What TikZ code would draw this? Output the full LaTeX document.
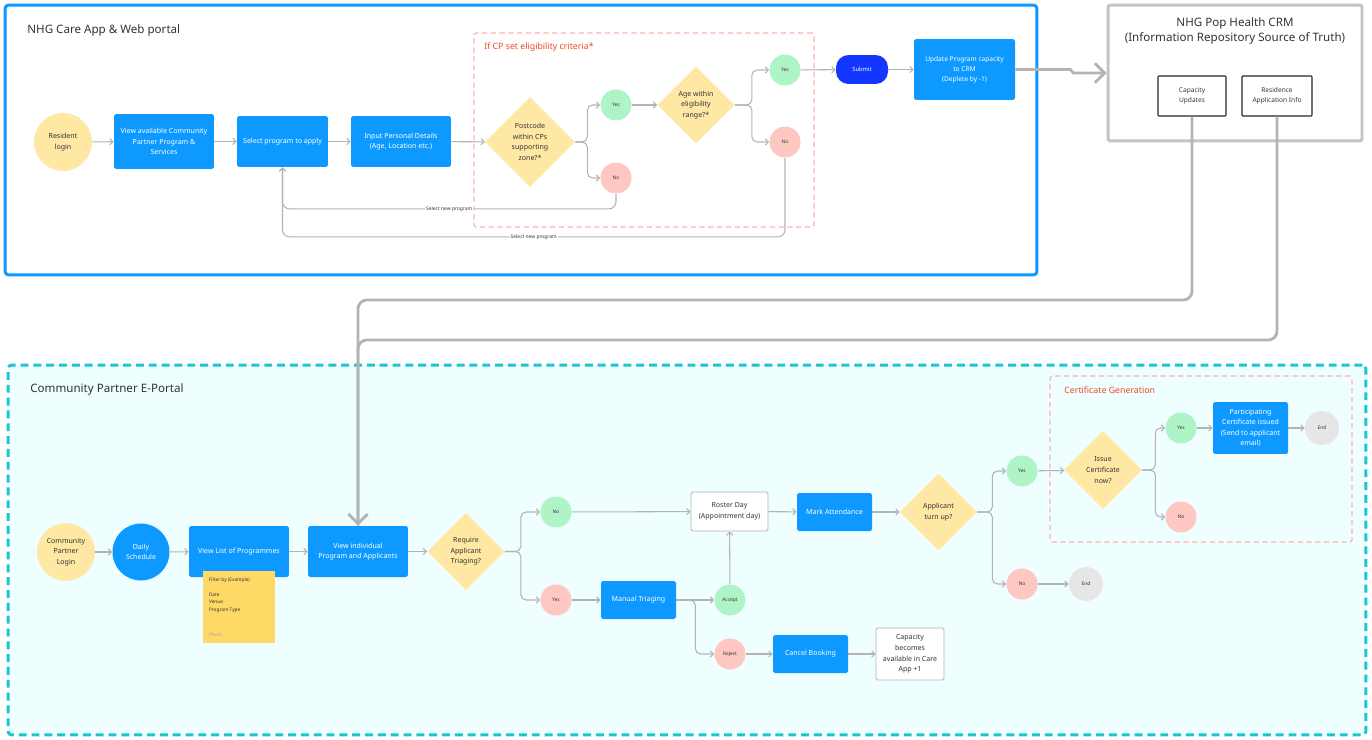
\documentclass[tikz,border=0pt]{standalone}
\usepackage{fontspec}
\setmainfont{Noto Sans}
\usepackage{xcolor}
\usepackage{tikz}
\usetikzlibrary{arrows.meta,positioning,calc,shapes.geometric}

\definecolor{figblue}{HTML}{0D99FF}
\definecolor{submitblue}{HTML}{1437FF}
\definecolor{softyellow}{HTML}{FFE8A3}
\definecolor{softgreen}{HTML}{AFF4C6}
\definecolor{softpink}{HTML}{FFC7C2}
\definecolor{endgrey}{HTML}{E6E6E6}
\definecolor{stickyyellow}{HTML}{FFD966}
\definecolor{portalteal}{HTML}{1BC5D1}
\definecolor{portalfill}{HTML}{EFFEFF}
\definecolor{framepink}{HTML}{FFB3AA}
\definecolor{titlered}{HTML}{F24822}
\definecolor{flowgrey}{HTML}{B3B3B3}
\definecolor{crmgrey}{HTML}{C4C4C4}
\definecolor{inkgrey}{HTML}{333333}

\newcommand{\panelfont}{\fontsize{6.6pt}{8.2pt}\selectfont}
\newcommand{\framefont}{\fontsize{5pt}{6pt}\selectfont}
\newcommand{\boxfont}{\fontsize{4pt}{6pt}\selectfont}
\newcommand{\smallboxfont}{\fontsize{3.75pt}{5.6pt}\selectfont}
\newcommand{\dotfont}{\fontsize{2.8pt}{3.4pt}\selectfont}
\newcommand{\notefont}{\fontsize{2.7pt}{4.2pt}\selectfont}

\begin{document}
\begin{tikzpicture}[
  x=0.02cm, y=-0.02cm,
  bluebox/.style={rectangle, fill=figblue, text=white, rounded corners=1pt,
                  inner sep=1pt, align=center, font=\boxfont},
  plainbox/.style={rectangle, fill=white, draw=flowgrey, line width=0.5pt,
                   rounded corners=1pt, inner sep=1pt, align=center,
                   font=\boxfont, text=inkgrey},
  repobox/.style={rectangle, draw=black!85, line width=0.6pt,
                  rounded corners=0.5pt, align=center, font=\smallboxfont,
                  text=inkgrey, minimum height=0.8cm},
  startdot/.style={circle, fill=softyellow, minimum size=1.16cm,
                   inner sep=0pt, align=center, font=\boxfont, text=inkgrey},
  decision/.style={diamond, aspect=1, fill=softyellow, inner sep=0pt,
                   align=center, font=\boxfont, text=inkgrey},
  yesdot/.style={circle, fill=softgreen, minimum size=0.62cm, inner sep=0pt,
                 font=\dotfont, text=inkgrey},
  nodot/.style={yesdot, fill=softpink},
  enddot/.style={yesdot, fill=endgrey, minimum size=0.68cm},
  sticky/.style={rectangle, fill=stickyyellow, minimum width=1.44cm,
                 minimum height=1.44cm, inner sep=0pt},
  notetext/.style={font=\notefont, align=left, inner sep=0pt, text=inkgrey},
  flow/.style={draw=flowgrey, line width=0.6pt,
               -{Straight Barb[length=1.8pt,width=3.6pt]}},
  bigflow/.style={draw=flowgrey, line width=1.6pt,
                  -{Straight Barb[length=5.5pt,width=11pt]}},
  bigline/.style={draw=flowgrey, line width=1.6pt},
  looplabel/.style={fill=white, inner sep=0.6pt, font=\dotfont, text=inkgrey},
  paneltitle/.style={anchor=west, font=\panelfont, text=inkgrey, inner sep=0pt},
  frametitle/.style={anchor=west, font=\framefont, text=titlered, inner sep=0pt},
  pinkframe/.style={rectangle, draw=framepink, line width=0.7pt,
                    dash pattern=on 3pt off 2pt, rounded corners=1pt,
                    inner sep=0pt},
]
\useasboundingbox (0,0) rectangle (1372,740);

%%---- Panels --------------------------------------------------------
\node[rectangle, fill=portalfill, draw=portalteal, line width=1.7pt,
      dash pattern=on 4.5pt off 2.8pt, rounded corners=2pt, inner sep=0pt,
      minimum width=27.16cm, minimum height=7.4cm] (portalPanel) at (687,550) {};
\node[pinkframe, minimum width=6.04cm, minimum height=3.32cm] (certPanel) at (1201,459) {};
\node[rectangle, draw=figblue, line width=1.7pt, rounded corners=2pt,
      inner sep=0pt, minimum width=20.64cm, minimum height=5.4cm] (appPanel) at (521,140) {};
\node[pinkframe, minimum width=6.8cm, minimum height=3.88cm] (eligPanel) at (644,130) {};
\node[rectangle, draw=crmgrey, line width=1.7pt, rounded corners=1pt,
      inner sep=0pt, minimum width=5.08cm, minimum height=2.72cm] (crmPanel) at (1235,73) {};

\node[paneltitle] (appTitle) at (27,30) {NHG Care App \& Web portal};
\node[frametitle] (eligTitle) at (484,47) {If CP set eligibility criteria*};
\node[paneltitle] (portalTitle) at (30,389) {Community Partner E-Portal};
\node[frametitle] (certTitle) at (1064,390) {Certificate Generation};
\node[font=\panelfont, text=inkgrey, align=center, inner sep=0pt] (crmTitle) at (1235,31)
  {NHG Pop Health CRM\\(Information Repository Source of Truth)};

%%---- Care App flow -------------------------------------------------
\node[startdot] (resLogin) at (63,142) {Resident\\login};
\node[bluebox, minimum width=2cm, minimum height=1.1cm] (viewAvail) at (164,141.5)
  {View available Community\\Partner Program \&\\Services};
\node[bluebox, minimum width=1.82cm, minimum height=1.02cm] (selectProg) at (282.5,141.5)
  {Select program to apply};
\node[bluebox, minimum width=2cm, minimum height=1.02cm] (inputDetails) at (401,141.5)
  {Input Personal Details\\(Age, Location etc.)};
\node[decision, minimum width=1.8cm, minimum height=1.8cm] (postcode) at (530,142)
  {Postcode\\within CPs\\supporting\\zone?*};
\node[yesdot] (pcYes) at (616,105) {Yes};
\node[nodot] (pcNo) at (616,178) {No};
\node[decision, minimum width=1.54cm, minimum height=1.54cm] (ageCheck) at (696,105)
  {Age within\\eligibility\\range?*};
\node[yesdot] (ageYes) at (785,70) {Yes};
\node[nodot] (ageNo) at (785,142) {No};
\node[rectangle, fill=submitblue, text=white, rounded corners=0.25cm,
      minimum width=1.04cm, minimum height=0.58cm, inner sep=0pt,
      font=\fontsize{3.3pt}{4pt}\selectfont] (submit) at (862,69.5) {Submit};
\node[bluebox, font=\smallboxfont, minimum width=2.02cm, minimum height=1.22cm] (updateCap) at (964.5,69.5)
  {Update Program capacity\\to CRM\\(Deplete by -1)};

\draw[flow] (resLogin) -- (viewAvail);
\draw[flow] (viewAvail) -- (selectProg);
\draw[flow] (selectProg) -- (inputDetails);
\draw[flow] (inputDetails) -- (postcode);
\draw[flow, rounded corners=3pt] (postcode.east) -- ++(12,0) |- (pcYes.west);
\draw[flow, rounded corners=3pt] (postcode.east) -- ++(12,0) |- (pcNo.west);
\draw[flow] (pcYes) -- (ageCheck);
\draw[flow, rounded corners=3pt] (ageCheck.east) -- ++(17,0) |- (ageYes.west);
\draw[flow, rounded corners=3pt] (ageCheck.east) -- ++(17,0) |- (ageNo.west);
\draw[flow] (ageYes) -- (submit);
\draw[flow] (submit) -- (updateCap);

% back to program selection
\draw[flow, rounded corners=4pt] (pcNo.south) -- ++(0,15) -| (selectProg.south)
  node[looplabel, pos=0.25] (newProgA) {Select new program};
\draw[flow, rounded corners=4pt] (ageNo.south) -- ++(0,79) -| (selectProg.south)
  node[looplabel, pos=0.25] (newProgB) {Select new program};

%%---- CRM -----------------------------------------------------------
\node[repobox, minimum width=1.36cm] (capUpd) at (1192,96) {Capacity\\Updates};
\node[repobox, minimum width=1.4cm] (resInfo) at (1277,96) {Residence\\Application Info};

\draw[bigflow] (updateCap.east) -- ++(55,0) -- ++(3,3.5) -- (crmPanel.west);

%%---- Community Partner flow ----------------------------------------
\node[startdot] (cpLogin) at (66,552) {Community\\Partner\\Login};
\node[startdot, fill=figblue, text=white, minimum size=1.14cm] (daily) at (141,552) {Daily\\Schedule};
\node[bluebox, minimum width=2cm, minimum height=1.02cm] (viewList) at (239,551.5)
  {View List of Programmes};
\node[sticky] (filterNote) at (239,607) {};
\node[notetext, anchor=north west] (filterText) at ($(filterNote.north west)+(6,7)$)
  {Filter by (Example)\\[4.2pt]Date\\Venue\\Program Type};
\node[notetext, text=black!35, anchor=south west] (filterTag) at ($(filterNote.south west)+(6,-6)$) {Photo};
\node[bluebox, minimum width=2cm, minimum height=1.02cm] (viewInd) at (358,551.5)
  {View individual\\Program and Applicants};
\node[decision, minimum width=1.54cm, minimum height=1.54cm] (triage) at (466,551.5)
  {Require\\Applicant\\Triaging?};
\node[yesdot] (triNo) at (556,512) {No};
\node[nodot] (triYes) at (556,600) {Yes};
\node[bluebox, minimum width=1.5cm, minimum height=0.76cm] (manual) at (638.5,600) {Manual Triaging};
\node[yesdot] (accept) at (730,600) {Accept};
\node[nodot] (reject) at (730,654) {Reject};
\node[plainbox, minimum width=1.54cm, minimum height=0.78cm] (roster) at (729.5,511.5)
  {Roster Day\\(Appointment day)};
\node[bluebox, minimum width=1.5cm, minimum height=0.76cm] (attend) at (834.5,512) {Mark Attendance};
\node[decision, minimum width=1.54cm, minimum height=1.54cm] (turnUp) at (938.5,512)
  {Applicant\\turn up?};
\node[yesdot] (turnYes) at (1022,471) {Yes};
\node[nodot] (turnNo) at (1022,584) {No};
\node[enddot] (endA) at (1086,584) {End};
\node[decision, minimum width=1.56cm, minimum height=1.56cm] (issueCert) at (1103,470)
  {Issue\\Certificate\\now?};
\node[yesdot] (certYes) at (1181,428) {Yes};
\node[nodot] (certNo) at (1181,517) {No};
\node[bluebox, minimum width=1.5cm, minimum height=1.04cm] (certIssued) at (1250.5,428)
  {Participating\\Certificate issued\\(Send to applicant\\email)};
\node[enddot] (endB) at (1322,428) {End};
\node[bluebox, minimum width=1.5cm, minimum height=0.76cm] (cancel) at (810.5,654) {Cancel Booking};
\node[plainbox, minimum width=1.36cm, minimum height=1.04cm] (capFree) at (910,654)
  {Capacity\\becomes\\available in Care\\App +1};

\draw[flow] (cpLogin) -- (daily);
\draw[flow] (daily) -- (viewList);
\draw[flow] (viewList) -- (viewInd);
\draw[flow] (viewInd) -- (triage);
\draw[flow, rounded corners=3pt] (triage.east) -- ++(16,0) |- (triNo.west);
\draw[flow, rounded corners=3pt] (triage.east) -- ++(16,0) |- (triYes.west);
\draw[flow] (triNo) -- (roster);
\draw[flow] (triYes) -- (manual);
\draw[flow] (manual) -- (accept);
\draw[flow, rounded corners=3pt] (manual.east) -- ++(19,0) |- (reject.west);
\draw[flow] (accept) -- (roster);
\draw[flow] (roster) -- (attend);
\draw[flow] (attend) -- (turnUp);
\draw[flow, rounded corners=3pt] (turnUp.east) -- ++(15,0) |- (turnYes.west);
\draw[flow, rounded corners=3pt] (turnUp.east) -- ++(15,0) |- (turnNo.west);
\draw[flow] (turnYes) -- (issueCert);
\draw[flow] (turnNo) -- (endA);
\draw[flow, rounded corners=3pt] (issueCert.east) -- ++(13,0) |- (certYes.west);
\draw[flow, rounded corners=3pt] (issueCert.east) -- ++(13,0) |- (certNo.west);
\draw[flow] (certYes) -- (certIssued);
\draw[flow] (certIssued) -- (endB);
\draw[flow] (reject) -- (cancel);
\draw[flow] (cancel) -- (capFree);

%%---- CRM feeds to the portal ---------------------------------------
\coordinate (busA) at (358,300);
\coordinate (busB) at (358,340);
\draw[bigline, rounded corners=5pt] (resInfo.south) |- (busB) -- (viewInd.north);
\draw[bigflow, rounded corners=5pt] (capUpd.south) |- (busA) -- (viewInd.north);

\end{tikzpicture}
\end{document}
